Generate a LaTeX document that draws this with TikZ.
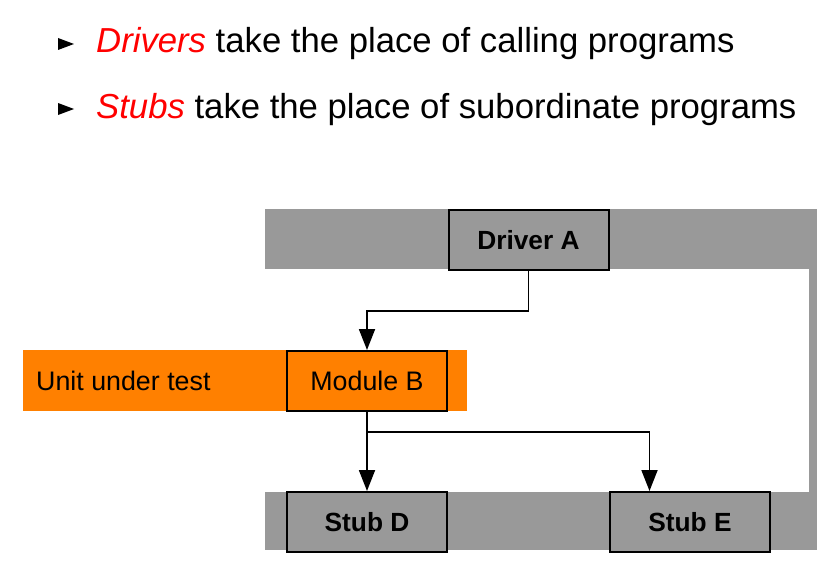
\documentclass[tikz,border=0pt]{standalone}
\usepackage{fontspec}
\setmainfont{Liberation Sans}
\usepackage{xcolor}
\usepackage{tikz}
\definecolor{bandgray}{RGB}{153, 153, 153}
\definecolor{unitorange}{RGB}{255, 128, 0}
\definecolor{alertred}{RGB}{255, 0, 0}
\usetikzlibrary{arrows.meta, positioning, calc}

\begin{document}
\begin{tikzpicture}[x=1pt, y=-1pt,
    modbox/.style={draw=black, line width=2pt, minimum width=160pt, minimum height=60pt,
          inner sep=0pt, font=\fontsize{26.8}{30}\selectfont},
    stubbox/.style={modbox, fill=bandgray, font=\fontsize{26.3}{30}\selectfont\bfseries},
    link/.style={draw=black, line width=1.8pt},
    arr/.style={link, -{Triangle[width=16pt, length=21pt]}},
    bullettext/.style={anchor=base west, inner sep=0pt, font=\fontsize{34.7}{40}\selectfont}]
    \useasboundingbox (0,0) rectangle (817,578);

    % bullets
    \fill (58,38) -- (74,44) -- (58,50) -- cycle;
    \fill (58,103) -- (74,109) -- (58,115) -- cycle;
    \node[bullettext] (drivers) at (96,53) {\textcolor{alertred}{\itshape Drivers} take the place of calling programs};
    \node[bullettext] (stubs) at (96,118) {\textcolor{alertred}{\itshape Stubs} take the place of subordinate programs};

    % layers
    \fill[bandgray] (265,209) rectangle (817,269);
    \fill[bandgray] (809,269) rectangle (817,550);
    \fill[bandgray] (265,492) rectangle (817,550);
    \fill[unitorange] (23,350) rectangle (467,411);
    \node[anchor=west, inner sep=0pt, font=\fontsize{26.8}{30}\selectfont] (unit) at (36,381) {Unit under test};

    % modules
    \node[stubbox] (driverA) at (528.5,240) {Driver A};
    \node[modbox, fill=unitorange] (moduleB) at (367,381) {Module B};
    \node[stubbox] (stubD) at (367,522) {Stub D};
    \node[stubbox] (stubE) at (690,522) {Stub E};

    % calls
    \draw[arr] (driverA.south) -- ++(0,40) -| (moduleB.north);
    \draw[arr] (moduleB.south) -- (stubD.north);
    \coordinate (split) at ($(moduleB.south)+(0,20)$);
    \coordinate (stubEin) at ($(stubE.north west)!0.25!(stubE.north east)$);
    \draw[arr] (split) -| (stubEin);
\end{tikzpicture}
\end{document}
